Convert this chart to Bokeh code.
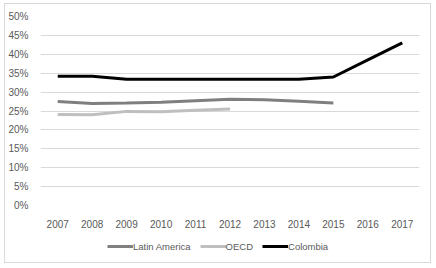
from bokeh.plotting import figure
from bokeh.layouts import column
from bokeh.models import NumeralTickFormatter, Legend, LegendItem, FixedTicker, Range1d, FactorRange
from bokeh.embed import file_html
from bokeh.resources import INLINE

years = ["2007", "2008", "2009", "2010", "2011", "2012", "2013", "2014", "2015", "2016", "2017"]
latin_america = [0.275, 0.270, 0.271, 0.273, 0.277, 0.281, 0.280, 0.276, 0.271]
oecd = [0.241, 0.240, 0.249, 0.248, 0.252, 0.255]
colombia = [0.342, 0.342, 0.334, 0.334, 0.334, 0.334, 0.334, 0.334, 0.340, 0.385, 0.430]
y_ticks = [0.0, 0.05, 0.10, 0.15, 0.20, 0.25, 0.30, 0.35, 0.40, 0.45, 0.50]
series_names = ["Latin America", "OECD", "Colombia"]
series_colors = ["#7f7f7f", "#bfbfbf", "#000000"]
series_values = [latin_america, oecd, colombia]

FONT = "Liberation Sans"
TXT = "#595959"

p = figure(x_range=years, y_range=(0, 0.5), width=425, height=226,
           output_backend="svg", toolbar_location=None,
           min_border_left=35, min_border_right=11, min_border_top=12, min_border_bottom=22)
p.outline_line_color = None

for vals, col in zip(series_values, series_colors):
    p.line(years[:len(vals)], vals, line_color=col, line_width=3)

p.yaxis.ticker = FixedTicker(ticks=y_ticks)
p.yaxis.formatter = NumeralTickFormatter(format="0%")
for ax in (p.xaxis[0], p.yaxis[0]):
    ax.axis_line_color = None
    ax.major_tick_line_color = None
    ax.minor_tick_line_color = None
    ax.major_label_text_font = FONT
    ax.major_label_text_font_size = "10px"
    ax.major_label_text_color = TXT
p.yaxis.major_label_standoff = 6
p.xaxis.major_label_standoff = 8
p.xgrid.grid_line_color = None
p.ygrid.grid_line_color = "#d9d9d9"

# legend strip (series drawn outside its visible y range, only the legend shows)
pl = figure(width=425, height=32, output_backend="svg", toolbar_location=None,
            x_range=FactorRange(*years), y_range=Range1d(1, 2),
            min_border_left=0, min_border_right=0, min_border_top=0, min_border_bottom=0,
            x_axis_location=None, y_axis_location=None)
pl.outline_line_color = None
pl.grid.visible = False
items = []
for name, vals, col in zip(series_names, series_values, series_colors):
    r = pl.line(years[:len(vals)], vals, line_color=col, line_width=3)
    items.append(LegendItem(label=name, renderers=[r]))
legend = Legend(items=items, orientation="horizontal", location=(67, 10),
                label_text_font=FONT, label_text_font_size="9.5px", label_text_color=TXT,
                glyph_width=26, glyph_height=12, label_height=12, label_standoff=0, spacing=9,
                border_line_color=None, background_fill_alpha=0, padding=0, margin=0)
pl.add_layout(legend)

layout = column(p, pl, spacing=0, margin=(3, 0, 0, 4),
                styles={"border": "1px solid #d9d9d9"})

open("out.html", "w").write(file_html(layout, INLINE))
